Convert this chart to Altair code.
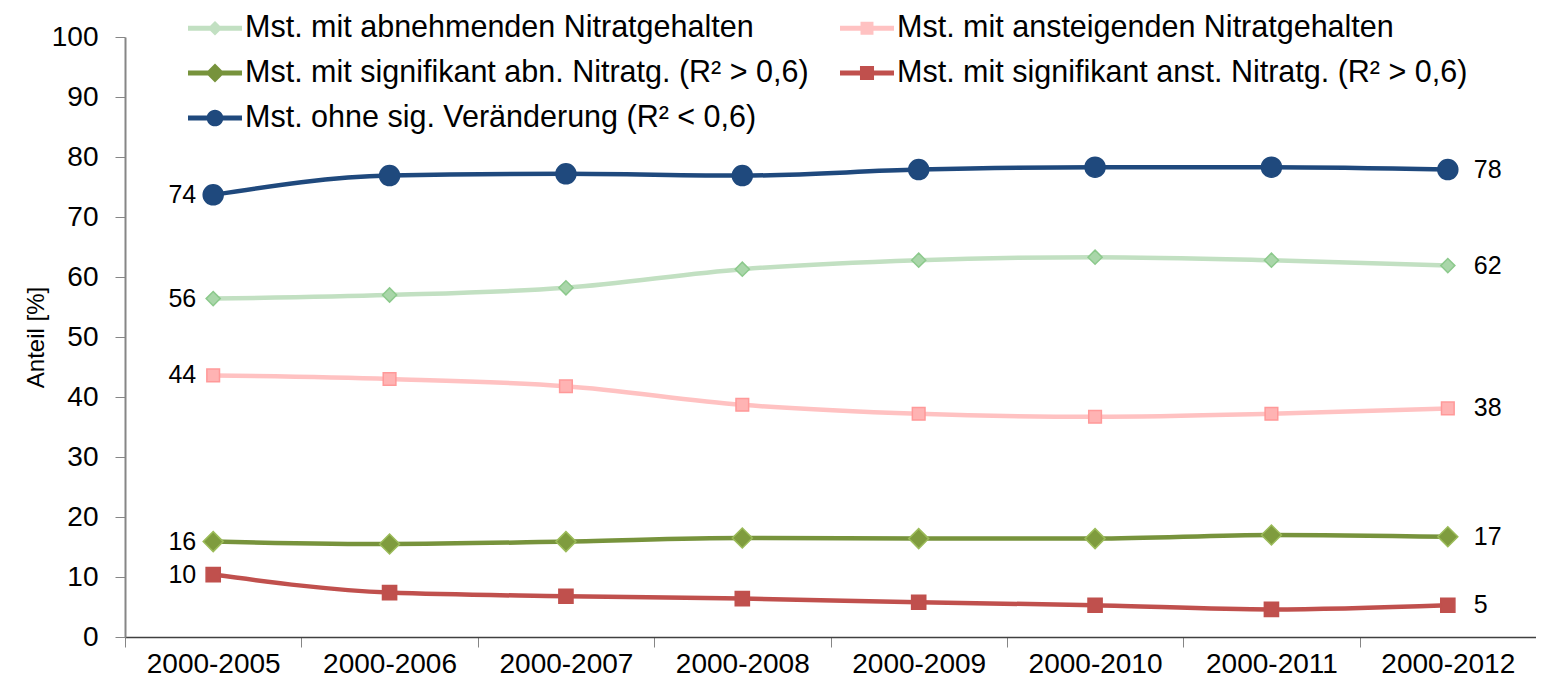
import altair as alt
import pandas as pd

categories = ["2000-2005", "2000-2006", "2000-2007", "2000-2008",
              "2000-2009", "2000-2010", "2000-2011", "2000-2012"]

series = [
    "Mst. mit abnehmenden Nitratgehalten",
    "Mst. mit ansteigenden Nitratgehalten",
    "Mst. mit signifikant abn. Nitratg. (R² > 0,6)",
    "Mst. mit signifikant anst. Nitratg. (R² > 0,6)",
    "Mst. ohne sig. Veränderung (R² < 0,6)",
]

abn = [56.4, 57.0, 58.2, 61.3, 62.8, 63.3, 62.8, 61.9]
anst = [43.6, 43.0, 41.8, 38.7, 37.2, 36.7, 37.2, 38.1]
sig_abn = [15.9, 15.5, 15.9, 16.5, 16.4, 16.4, 17.0, 16.7]
sig_anst = [10.4, 7.4, 6.8, 6.4, 5.8, 5.3, 4.6, 5.3]
ohne = [73.7, 76.9, 77.2, 76.9, 77.9, 78.3, 78.3, 77.9]

line_colors = ["#c2e0c2", "#ffc2c2", "#77933c", "#c0504d", "#1f497d"]
marker_fills = ["#a9d6a9", "#ffb3b3", "#7f9c3e", "#c0504d", "#1f497d"]
marker_strokes = ["#8cc98c", "#ff9999", "#9bbb59", "#c0504d", "#1f497d"]
marker_shapes = ["diamond", "square", "diamond", "square", "circle"]
marker_sizes = [200, 160, 400, 200, 400]

# legend symbols: bar + marker (unit coordinates, scaled by the legend symbol size)
bar = "M-1,-0.095H1V0.095H-1Z"
legend_paths = [
    bar + "M0,-0.27L0.27,0L0,0.27L-0.27,0Z",
    bar + "M-0.24,-0.24H0.24V0.24H-0.24Z",
    bar + "M0,-0.35L0.35,0L0,0.35L-0.35,0Z",
    bar + "M-0.26,-0.26H0.26V0.26H-0.26Z",
    bar + "M-0.31,0A0.31,0.31 0 1,1 0.31,0A0.31,0.31 0 1,1 -0.31,0Z",
]

rows = []
for name, vals in zip(series, [abn, anst, sig_abn, sig_anst, ohne]):
    for c, v in zip(categories, vals):
        rows.append({"Zeitraum": c, "Serie": name, "Anteil": v})
df = pd.DataFrame(rows)

FONT = "Liberation Sans"

x_enc = alt.X("Zeitraum:N", sort=categories, bandPosition=0.5,
              scale=alt.Scale(type="band", paddingInner=0, paddingOuter=0),
              axis=alt.Axis(title=None, tickBand="extent", labelAngle=0,
                            labelFont=FONT, labelFontSize=28, labelColor="black",
                            labelPadding=3, tickSize=10, tickColor="#868686",
                            domainColor="#404040", domainWidth=1.5))
y_enc = alt.Y("Anteil:Q", scale=alt.Scale(domain=[0, 100], nice=False),
              axis=alt.Axis(title="Anteil [%]", values=list(range(0, 101, 10)),
                            grid=False, labelFont=FONT, labelFontSize=28,
                            labelColor="black", labelPadding=17, tickSize=10,
                            tickColor="#868686", domainColor="#868686",
                            domainWidth=2, titleFont=FONT, titleFontSize=24,
                            titleFontWeight="normal", titleColor="black",
                            titlePadding=3))

legend_cfg = alt.Legend(
    title=None, orient="none", legendX=63, legendY=-36,
    direction="horizontal", columns=2, columnPadding=31, rowPadding=2,
    labelFont=FONT, labelFontSize=30.5, labelColor="black",
    labelOffset=3, labelLimit=1000, symbolSize=2916,
    symbolStrokeWidth=0, symbolOpacity=1,
)

color_enc = alt.Color("Serie:N", scale=alt.Scale(domain=series, range=line_colors),
                      legend=legend_cfg)

base = alt.Chart(df)

legend_layer = base.transform_filter("false").mark_point(filled=True, opacity=1).encode(
    x=x_enc, y=y_enc,
    color=color_enc,
    shape=alt.Shape("Serie:N", scale=alt.Scale(domain=series, range=legend_paths),
                    legend=legend_cfg),
)

lines = base.mark_line(strokeWidth=4.5, interpolate="monotone").encode(
    x=x_enc, y=y_enc, color=color_enc,
)

point_layers = []
for name, shp, sz, fc, sc in zip(series, marker_shapes, marker_sizes,
                                  marker_fills, marker_strokes):
    point_layers.append(
        base.transform_filter(alt.datum.Serie == name).mark_point(
            filled=True, shape=shp, size=sz, fill=fc, stroke=sc,
            strokeWidth=1.5, opacity=1,
        ).encode(x=x_enc, y=y_enc)
    )

left_labels = base.transform_filter(
    alt.datum.Zeitraum == categories[0]
).mark_text(align="right", baseline="middle", dx=-17, font=FONT, fontSize=25,
            color="black").encode(x=x_enc, y=y_enc, text=alt.Text("Anteil:Q", format=".0f"))

right_labels = base.transform_filter(
    alt.datum.Zeitraum == categories[-1]
).mark_text(align="left", baseline="middle", dx=26, font=FONT, fontSize=25,
            color="black").encode(x=x_enc, y=y_enc, text=alt.Text("Anteil:Q", format=".0f"))

chart = alt.layer(legend_layer, lines, *point_layers, left_labels, right_labels).properties(
    width=1411, height=600,
    autosize=alt.AutoSizeParams(type="none"),
    padding={"left": 117, "top": 29, "right": 0, "bottom": 43},
    background="white",
).configure_view(stroke=None)

chart.save("out.html", embed_options={"renderer": "svg", "actions": False})
